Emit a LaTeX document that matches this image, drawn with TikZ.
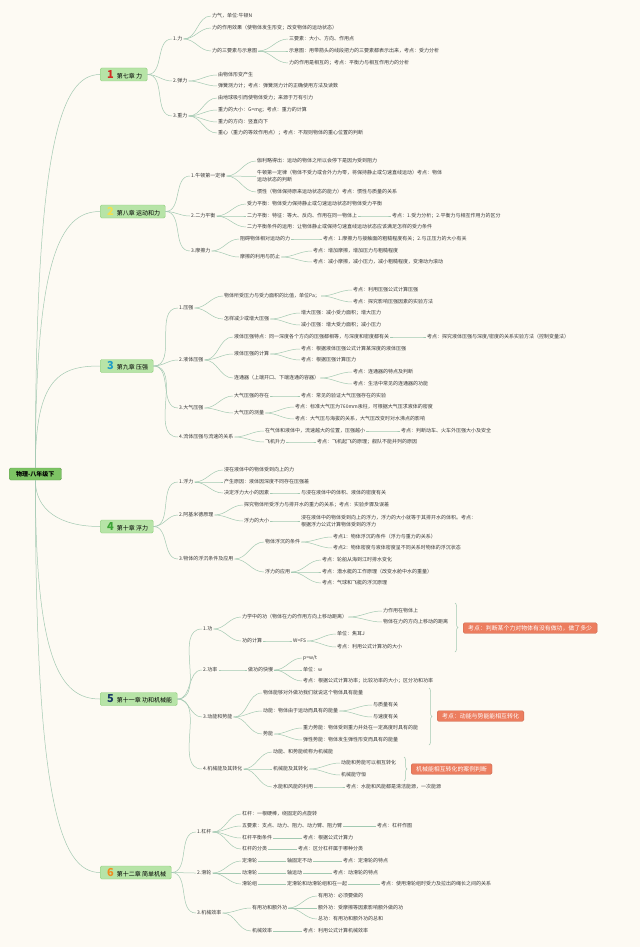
\documentclass[tikz,border=0pt]{standalone}
\usepackage{fontspec}
\setmainfont{Noto Sans CJK SC}
\usetikzlibrary{decorations.pathreplacing}
\definecolor{bgc}{RGB}{253,250,243}
\definecolor{lnc}{RGB}{163,201,178}
\definecolor{txc}{RGB}{55,55,55}
\definecolor{cbf}{RGB}{183,228,167}
\definecolor{cbd}{RGB}{140,205,120}
\definecolor{rtf}{RGB}{125,196,100}
\definecolor{kdf}{RGB}{236,125,95}
\definecolor{no1}{RGB}{212,44,36}
\definecolor{no2}{RGB}{242,224,80}
\definecolor{no3}{RGB}{31,156,200}
\definecolor{no4}{RGB}{60,165,53}
\definecolor{no5}{RGB}{27,58,102}
\definecolor{no6}{RGB}{240,140,32}
\begin{document}
\begin{tikzpicture}[x=1pt,y=1pt,
  it/.style={anchor=west, inner sep=1pt, text=txc, font=\fontsize{5}{7}\selectfont},
  ch/.style={anchor=west, draw=cbd, fill=cbf, rounded corners=1.5pt, minimum height=13pt, inner xsep=5pt, inner ysep=0pt, text=black, font=\fontsize{6}{7}\selectfont},
  rtbox/.style={anchor=west, draw=rtf!80!black, fill=rtf, rounded corners=1.5pt, minimum height=12pt, inner xsep=7pt, inner ysep=0pt, text=black, font=\fontsize{6}{7}\selectfont\bfseries},
  kd/.style={anchor=west, draw=kdf!85!black, fill=kdf, rounded corners=1.5pt, minimum height=10.5pt, inner xsep=5pt, inner ysep=0pt, text=white, font=\fontsize{5.9}{7}\selectfont},
  br/.style={draw=lnc, line width=0.5pt},
  bc/.style={draw=lnc, line width=0.5pt, decorate, decoration={brace, amplitude=3pt}}]
\useasboundingbox (0,0) rectangle (640,-947);
\fill[bgc] (0,0) rectangle (640,-947);

\node[rtbox] (rt) at (9,-474) {物理-八年级下};
\node[ch] (c1) at (100,-74.5) {\hspace{2pt}{\fontsize{11}{11}\selectfont\bfseries\color{no1}1}\hspace{3pt}第七章 力};
\node[ch] (c2) at (100,-211.5) {\hspace{2pt}{\fontsize{11}{11}\selectfont\bfseries\color{no2}2}\hspace{3pt}第八章 运动和力};
\node[ch] (c3) at (100,-366) {\hspace{2pt}{\fontsize{11}{11}\selectfont\bfseries\color{no3}3}\hspace{3pt}第九章 压强};
\node[ch] (c4) at (100,-526.5) {\hspace{2pt}{\fontsize{11}{11}\selectfont\bfseries\color{no4}4}\hspace{3pt}第十章 浮力};
\node[ch] (c5) at (100,-699) {\hspace{2pt}{\fontsize{11}{11}\selectfont\bfseries\color{no5}5}\hspace{3pt}第十一章 功和机械能};
\node[ch] (c6) at (100,-872.5) {\hspace{2pt}{\fontsize{11}{11}\selectfont\bfseries\color{no6}6}\hspace{3pt}第十二章 简单机械};

\node[it] (s11) at (172,-39) {1.力};
\node[it] (s12) at (172,-81) {2.弹力};
\node[it] (s13) at (172,-116) {3.重力};
\node[it] (i111) at (211,-16) {力气，单位:牛顿N};
\node[it] (i112) at (211,-28) {力的作用效果（使物体发生形变；改变物体的运动状态）};
\node[it] (i113) at (211,-51) {力的三要素与示意图};
\node[it] (i1131) at (288,-39) {三要素：大小、方向、作用点};
\node[it] (i1132) at (288,-51) {示意图：用带箭头的线段把力的三要素都表示出来，考点：受力分析};
\node[it] (i1133) at (288,-63) {力的作用是相互的；考点：平衡力与相互作用力的分析};
\node[it] (i121) at (217,-75) {由物体形变产生};
\node[it] (i122) at (217,-86) {弹簧测力计；考点：弹簧测力计的正确使用方法及读数};
\node[it] (i131) at (217,-98) {由地球吸引而使物体受力；来源于万有引力};
\node[it] (i132) at (217,-110) {重力的大小：G=mg；考点：重力的计算};
\node[it] (i133) at (217,-122) {重力的方向：竖直向下};
\node[it] (i134) at (217,-133) {重心（重力的等效作用点）；考点：不规则物体的重心位置的判断};

\node[it] (s21) at (190,-176) {1.牛顿第一定律};
\node[it] (s22) at (190,-216) {2.二力平衡};
\node[it] (s23) at (190,-251) {3.摩擦力};
\node[it] (i211) at (256,-161) {伽利略得出：运动的物体之所以会停下是因为受到阻力};
\node[it, align=left] (i212) at (256,-176.5) {牛顿第一定律（物体不受力或合外力为零，将保持静止或匀速直线运动）考点：物体\\运动状态的判断};
\node[it] (i213) at (256,-192) {惯性（物体保持原来运动状态的能力）考点：惯性与质量的关系};
\node[it] (i221) at (246,-204) {受力平衡：物体受力保持静止或匀速运动状态时物体受力平衡};
\node[it] (i222) at (246,-216) {二力平衡：特征：等大、反向、作用在同一物体上};
\node[it] (k222) at (391,-216) {考点：1.受力分析；2.平衡力与相互作用力的区分};
\node[it] (i223) at (246,-227) {二力平衡条件的运用：让物体静止或保持匀速直线运动状态应该满足怎样的受力条件};
\node[it] (i231) at (239,-239) {阻碍物体相对运动的力};
\node[it] (k231) at (322,-239) {考点：1.摩擦力与接触面的粗糙程度有关；2.与正压力的大小有关};
\node[it] (i232) at (239,-257) {摩擦的利用与防止};
\node[it] (k2321) at (312,-251) {考点：增加摩擦，增加压力与粗糙程度};
\node[it] (k2322) at (312,-262) {考点：减小摩擦，减小压力，减小粗糙程度，变滑动为滚动};

\node[it] (s31) at (178,-308) {1.压强};
\node[it] (s32) at (178,-360) {2.液体压强};
\node[it] (s33) at (178,-408) {3.大气压强};
\node[it] (s34) at (178,-437) {4.流体压强与流速的关系};
\node[it] (i311) at (223,-296) {物体所受压力与受力面积的比值，单位Pa；};
\node[it] (k3111) at (352,-290) {考点：利用压强公式计算压强};
\node[it] (k3112) at (352,-302) {考点：探究影响压强因素的实验方法};
\node[it] (i312) at (223,-319) {怎样减少或增大压强};
\node[it] (i3121) at (300,-313) {增大压强：减小受力面积；增大压力};
\node[it] (i3122) at (300,-325) {减小压强：增大受力面积；减小压力};
\node[it] (i321) at (233,-337) {液体压强特点：同一深度各个方向的压强都相等，与深度和密度都有关};
\node[it] (k321) at (426,-337) {考点：探究液体压强与深度/密度的关系实验方法（控制变量法）};
\node[it] (i322) at (233,-354) {液体压强的计算};
\node[it] (k3221) at (300,-349) {考点：根据液体压强公式计算某深度的液体压强};
\node[it] (k3222) at (300,-360) {考点：根据压强计算压力};
\node[it] (i323) at (233,-378) {连通器（上端开口、下端连通的容器）};
\node[it] (k3231) at (352,-372) {考点：连通器的特点及判断};
\node[it] (k3232) at (352,-384) {考点：生活中常见的连通器的功能};
\node[it] (i331) at (233,-396) {大气压强的存在};
\node[it] (k331) at (300,-396) {考点：常见的验证大气压强存在的实验};
\node[it] (i332) at (233,-413) {大气压的测量};
\node[it] (k3321) at (294,-407) {考点：标准大气压为760mm汞柱，可根据大气压求液体的密度};
\node[it] (k3322) at (294,-419) {考点：大气压与海拔的关系，大气压改变时对水沸点的影响};
\node[it] (i341) at (264,-431) {在气体和液体中，流速越大的位置，压强越小};
\node[it] (k341) at (400,-431) {考点：判断动车、火车外压强大小及安全};
\node[it] (i342) at (264,-442) {飞机升力};
\node[it] (k342) at (316,-442) {考点：飞机起飞的原理；舰队不能并列的原因};

\node[it] (s41) at (178,-482) {1.浮力};
\node[it] (s42) at (178,-515) {2.阿基米德原理};
\node[it] (s43) at (178,-559) {3.物体的浮沉条件及应用};
\node[it] (i411) at (223,-470) {浸在液体中的物体受到向上的力};
\node[it] (i412) at (223,-482) {产生原因：液体因深度不同存在压强差};
\node[it] (i413) at (223,-493) {决定浮力大小的因素};
\node[it] (k413) at (300,-493) {与浸在液体中的体积、液体的密度有关};
\node[it] (i421) at (243,-505) {探究物体所受浮力与排开水的重力的关系；考点：实验步骤及误差};
\node[it] (i422) at (243,-521) {浮力的大小};
\node[it, align=left] (k422) at (300,-521) {浸在液体中的物体受到向上的浮力，浮力的大小就等于其排开水的体积。考点：\\根据浮力公式计算物体受到的浮力};
\node[it] (i431) at (264,-542) {物体浮沉的条件};
\node[it] (k4311) at (332,-537) {考点1：物体浮沉的条件（浮力与重力的关系）};
\node[it] (k4312) at (332,-548) {考点2：物体密度与液体密度呈不同关系时物体的浮沉状态};
\node[it] (i432) at (264,-572) {浮力的应用};
\node[it] (k4321) at (321,-560) {考点：轮船从海到江时排水变化};
\node[it] (k4322) at (321,-572) {考点：潜水艇的工作原理（改变水舱中水的重量）};
\node[it] (k4323) at (321,-583) {考点：气球和飞艇的浮沉原理};

\node[it] (s51) at (202,-629) {1.功};
\node[it] (s52) at (202,-670) {2.功率};
\node[it] (s53) at (202,-717) {3.动能和势能};
\node[it] (s54) at (202,-769) {4.机械能及其转化};
\node[it] (i511) at (241,-617) {力学中的功（物体在力的作用方向上移动距离）};
\node[it] (i5111) at (382,-611) {力作用在物体上};
\node[it] (i5112) at (382,-622) {物体在力的方向上移动的距离};
\node[it] (i512) at (241,-641) {功的计算};
\node[it] (i5121) at (292,-641) {W=FS};
\node[it] (i5122) at (336,-634) {单位：焦耳J};
\node[it] (i5123) at (336,-647) {考点：利用公式计算功的大小};
\node[it] (i521) at (247,-670) {做功的快慢};
\node[it] (i5211) at (302,-658) {p=w/t};
\node[it] (i5212) at (302,-670) {单位：w};
\node[it] (i5213) at (302,-681) {考点：根据公式计算功率；比较功率的大小；区分功和功率};
\node[it] (i531) at (262,-693) {物体能够对外做功我们就说这个物体具有能量};
\node[it] (i532) at (262,-711) {动能：物体由于运动而具有的能量};
\node[it] (i5321) at (372,-705) {与质量有关};
\node[it] (i5322) at (372,-717) {与速度有关};
\node[it] (i533) at (262,-734) {势能};
\node[it] (i5331) at (302,-728) {重力势能：物体受到重力并处在一定高度时具有的能};
\node[it] (i5332) at (302,-740) {弹性势能：物体发生弹性形变而具有的能量};
\node[it] (i541) at (272,-752) {动能、和势能统称为机械能};
\node[it] (i542) at (272,-769) {机械能及其转化};
\node[it] (i5421) at (340,-763) {动能和势能可以相互转化};
\node[it] (i5422) at (340,-775) {机械能守恒};
\node[it] (i543) at (272,-787) {水能和风能的利用};
\node[it] (k543) at (345,-787) {考点：水能和风能都是清洁能源，一次能源};
\coordinate (b1t) at (455,-603); \coordinate (b1b) at (455,-652);
\coordinate (b2t) at (429,-688); \coordinate (b2b) at (429,-745);
\coordinate (b3t) at (404,-757); \coordinate (b3b) at (404,-781);
\node[kd] (kd1) at (463,-628) {考点：判断某个力对物体有没有做功，做了多少};
\node[kd] (kd2) at (437,-716) {考点：动能与势能能相互转化};
\node[kd] (kd3) at (411,-769) {机械能相互转化的案例判断};

\node[it] (s61) at (196,-832) {1.杠杆};
\node[it] (s62) at (196,-873) {2.滑轮};
\node[it] (s63) at (196,-913) {3.机械效率};
\node[it] (i611) at (241,-814) {杠杆：一根硬棒，绕固定的点旋转};
\node[it] (i612) at (241,-826) {五要素：支点、动力、阻力、动力臂、阻力臂};
\node[it] (k612) at (376,-826) {考点：杠杆作图};
\node[it] (i613) at (241,-838) {杠杆平衡条件};
\node[it] (k613) at (302,-838) {考点：根据公式计算力};
\node[it] (i614) at (241,-849) {杠杆的分类};
\node[it] (k614) at (297,-849) {考点：区分杠杆属于哪种分类};
\node[it] (i621) at (241,-861) {定滑轮};
\node[it] (j621) at (286,-861) {轴固定不动};
\node[it] (k621) at (342,-861) {考点：定滑轮的特点};
\node[it] (i622) at (241,-873) {动滑轮};
\node[it] (j622) at (286,-873) {轴运动};
\node[it] (k622) at (332,-873) {考点：动滑轮的特点};
\node[it] (i623) at (241,-884) {滑轮组};
\node[it] (j623) at (286,-884) {定滑轮和动滑轮组和在一起};
\node[it] (k623) at (380,-884) {考点：使用滑轮组时受力及拉出的绳长之间的关系};
\node[it] (i631) at (251,-908) {有用功和额外功};
\node[it] (i6311) at (317,-896) {有用功：必须要做的};
\node[it] (i6312) at (317,-908) {额外功：受摩擦等因素影响额外做的功};
\node[it] (i6313) at (317,-919) {总功：有用功和额外功的总和};
\node[it] (i632) at (251,-931) {机械效率};
\node[it] (k632) at (302,-931) {考点：利用公式计算机械效率};

\foreach \c/\d in {c1/320pt,c2/210pt,c3/90pt} \draw[br] (rt.north) to[out=90,in=180,out distance=\d,in distance=40pt] (\c.west);
\foreach \c/\d in {c4/30pt,c5/180pt,c6/320pt} \draw[br] (rt.south) to[out=-90,in=180,out distance=\d,in distance=40pt] (\c.west);
\foreach \a/\b in {c1/s11,c1/s12,c1/s13,s11/i111,s11/i112,s11/i113,i113/i1131,i113/i1132,i113/i1133,s12/i121,s12/i122,s13/i131,s13/i132,s13/i133,s13/i134,
  c2/s21,c2/s22,c2/s23,s21/i211,s21/i212,s21/i213,s22/i221,s22/i222,s22/i223,i222/k222,s23/i231,s23/i232,i231/k231,i232/k2321,i232/k2322,
  c3/s31,c3/s32,c3/s33,c3/s34,s31/i311,s31/i312,i311/k3111,i311/k3112,i312/i3121,i312/i3122,s32/i321,s32/i322,s32/i323,i321/k321,i322/k3221,i322/k3222,i323/k3231,i323/k3232,
  s33/i331,s33/i332,i331/k331,i332/k3321,i332/k3322,s34/i341,s34/i342,i341/k341,i342/k342,
  c4/s41,c4/s42,c4/s43,s41/i411,s41/i412,s41/i413,i413/k413,s42/i421,s42/i422,i422/k422,s43/i431,s43/i432,i431/k4311,i431/k4312,i432/k4321,i432/k4322,i432/k4323,
  c5/s51,c5/s52,c5/s53,c5/s54,s51/i511,s51/i512,i511/i5111,i511/i5112,i512/i5121,i5121/i5122,i5121/i5123,s52/i521,i521/i5211,i521/i5212,i521/i5213,
  s53/i531,s53/i532,s53/i533,i532/i5321,i532/i5322,i533/i5331,i533/i5332,s54/i541,s54/i542,s54/i543,i542/i5421,i542/i5422,i543/k543,
  c6/s61,c6/s62,c6/s63,s61/i611,s61/i612,s61/i613,s61/i614,i612/k612,i613/k613,i614/k614,s62/i621,s62/i622,s62/i623,i621/j621,j621/k621,i622/j622,j622/k622,i623/j623,j623/k623,
  s63/i631,s63/i632,i631/i6311,i631/i6312,i631/i6313,i632/k632}
  \draw[br] (\a.east) to[out=0,in=180] (\b.west);
\draw[bc] (b1t) -- (b1b);
\draw[bc] (b2t) -- (b2b);
\draw[bc] (b3t) -- (b3b);
\end{tikzpicture}
\end{document}
